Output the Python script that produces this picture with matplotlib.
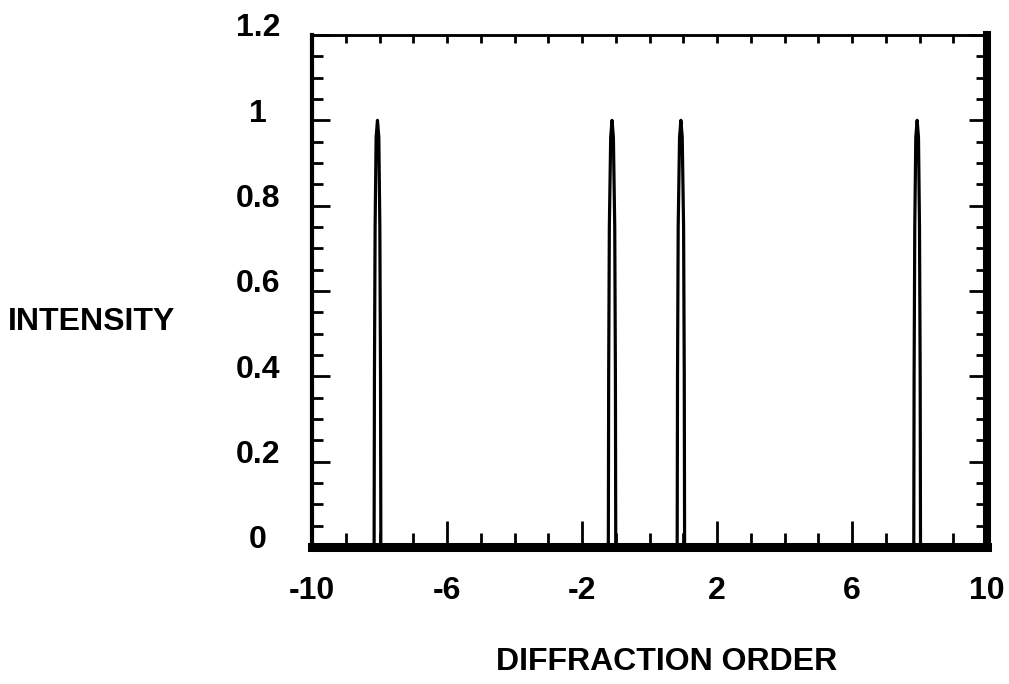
import matplotlib
matplotlib.use('Agg')
import matplotlib.pyplot as plt
from matplotlib.ticker import MultipleLocator
from matplotlib.transforms import ScaledTranslation

# diffraction orders and measured intensity (peaks near -8, -1, 1, 8)
ORDER = [-10.0,
         -8.16, -8.15, -8.13, -8.10, -8.06, -8.02, -7.99, -7.97, -7.96,
         -1.22, -1.21, -1.19, -1.15, -1.11, -1.07, -1.03, -1.01, -1.00,
         0.82, 0.83, 0.85, 0.89, 0.93, 0.97, 1.01, 1.03, 1.04,
         7.83, 7.84, 7.86, 7.89, 7.93, 7.97, 8.00, 8.02, 8.03,
         10.0]
INTENSITY = [0.0,
             0.0, 0.4, 0.75, 0.96, 1.0, 0.96, 0.75, 0.4, 0.0,
             0.0, 0.4, 0.75, 0.96, 1.0, 0.96, 0.75, 0.4, 0.0,
             0.0, 0.4, 0.75, 0.96, 1.0, 0.96, 0.75, 0.4, 0.0,
             0.0, 0.4, 0.75, 0.96, 1.0, 0.96, 0.75, 0.4, 0.0,
             0.0]

X_TICKS = [-10, -6, -2, 2, 6, 10]
X_TICK_LABELS = ['-10', '-6', '-2', '2', '6', '10']
Y_TICKS = [0, 0.2, 0.4, 0.6, 0.8, 1.0, 1.2]
Y_TICK_LABELS = ['0', '0.2', '0.4', '0.6', '0.8', '1', '1.2']

plt.rcParams['font.family'] = ['Liberation Sans', 'DejaVu Sans']
plt.rcParams['font.weight'] = 'bold'
plt.rcParams['font.size'] = 23

W, H = 1009, 684
fig = plt.figure(figsize=(W / 100, H / 100), dpi=100)
ax = fig.add_axes([312 / W, 1 - 547 / H, 675 / W, 512 / H])

ax.plot(ORDER, INTENSITY, color='black', lw=2.3)
ax.set_xlim(-10, 10)
ax.set_ylim(0, 1.2)

ax.set_xticks(X_TICKS, X_TICK_LABELS)
ax.xaxis.set_minor_locator(MultipleLocator(1))
ax.set_yticks(Y_TICKS, Y_TICK_LABELS)
ax.yaxis.set_minor_locator(MultipleLocator(0.05))

ax.tick_params(axis='x', which='both', direction='in', top=False, bottom=True, width=2)
ax.tick_params(axis='x', which='major', length=19, pad=21)
ax.tick_params(axis='x', which='minor', length=10)
ax.tick_params(axis='y', which='both', direction='in', left=True, right=True, width=2)
ax.tick_params(axis='y', which='major', length=13, pad=39)
ax.tick_params(axis='y', which='minor', length=8)

# top edge has only short ticks at every order
top = ax.secondary_xaxis('top')
top.set_xticks(range(-9, 10))
top.tick_params(direction='in', length=6, width=2, labeltop=False)
top.spines['top'].set_linewidth(1.8)

# y labels sit centred and a little above their ticks
shift = ScaledTranslation(0, 0.10, fig.dpi_scale_trans)
for label in ax.get_yticklabels():
    label.set_horizontalalignment('center')
    label.set_transform(label.get_transform() + shift)

widths = {'left': 3, 'bottom': 6.5, 'right': 5.8, 'top': 1.8}
for side, lw in widths.items():
    ax.spines[side].set_linewidth(lw)
    ax.spines[side].set_capstyle('projecting')

fig.text(8 / W, 1 - 322 / H, 'INTENSITY', ha='left', va='center')
fig.text(667 / W, 1 - 662 / H, 'DIFFRACTION ORDER', ha='center', va='center')

fig.savefig('out.png', dpi=100)
